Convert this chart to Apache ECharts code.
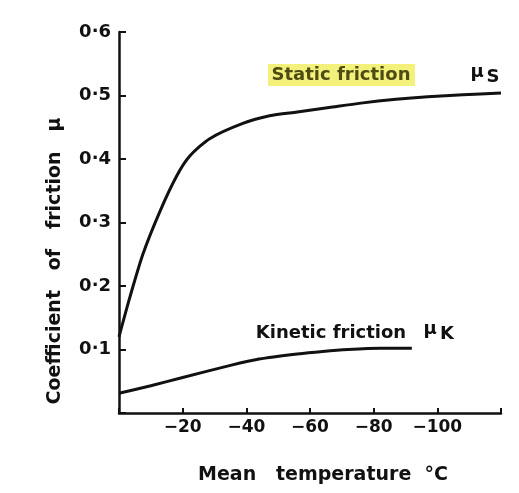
<!DOCTYPE html>
<html>
<head>
<meta charset="utf-8">
<script src="https://cdn.jsdelivr.net/npm/echarts@6/dist/echarts.min.js"></script>
<style>
  html, body { margin: 0; padding: 0; background: #fff; }
  #chart { width: 519px; height: 493px; }
</style>
</head>
<body>
<div id="chart"></div>
<script>
// mean temperature (°C) and friction coefficient
const staticTemps = [0, -3.4, -7.5, -12.9, -18.2, -22.3, -28.5, -38.9, -47.3, -56, -66, -76, -87, -97, -108, -120]
const staticMu = [0.12, 0.182, 0.25, 0.318, 0.374, 0.405, 0.432, 0.456, 0.468, 0.474, 0.481, 0.488, 0.494, 0.498, 0.501, 0.504]

const kineticTemps = [0, -10, -20, -35, -44, -56, -64, -72, -82, -92]
const kineticMu = [0.031, 0.043, 0.056, 0.075, 0.085, 0.093, 0.097, 0.1, 0.102, 0.102]

const xTicks = [-20, -40, -60, -80, -100]
const yTicks = [0.1, 0.2, 0.3, 0.4, 0.5, 0.6]

const font = '"DejaVu Sans", sans-serif'
const ink = '#111'

const chart = echarts.init(document.getElementById('chart'))

const pair = (xs, ys) => xs.map((x, i) => [x, ys[i]])

chart.setOption({
  animation: false,
  grid: {
    left: 119,
    right: 18,
    top: 32,
    bottom: 80,
    outerBoundsMode: 'none',
  },
  xAxis: {
    type: 'value',
    inverse: true,
    min: -120,
    max: 0,
    interval: 20,
    splitLine: { show: false },
    axisLine: { lineStyle: { color: ink, width: 2.5 } },
    axisTick: { inside: true, length: 5, lineStyle: { color: ink, width: 2 } },
    axisLabel: {
      margin: 6,
      color: ink,
      fontFamily: font,
      fontWeight: 'bold',
      fontSize: 17,
      formatter: (v) => xTicks.includes(v) ? '\u2212' + Math.abs(v) : '',
    },
  },
  yAxis: {
    type: 'value',
    min: 0,
    max: 0.6,
    interval: 0.1,
    splitLine: { show: false },
    axisLine: { show: true, lineStyle: { color: ink, width: 2.5 } },
    axisTick: { show: true, inside: true, length: 7, lineStyle: { color: ink, width: 2 } },
    axisLabel: {
      margin: 8,
      color: ink,
      fontFamily: font,
      fontWeight: 'bold',
      fontSize: 18,
      formatter: (v) => {
        const hit = yTicks.find((t) => Math.abs(t - v) < 1e-6)
        return hit ? hit.toFixed(1).replace('.', '\u00b7') : ''
      },
    },
  },
  graphic: [
    {
      type: 'text',
      x: 55,
      y: 261,
      rotation: Math.PI / 2,
      style: {
        text: 'Coefficient   of   friction   \u03bc',
        fill: ink,
        font: 'bold 19px ' + font,
        align: 'center',
        verticalAlign: 'middle',
      },
    },
    {
      type: 'text',
      x: 323,
      y: 475,
      style: {
        text: 'Mean   temperature  \u00b0C',
        fill: ink,
        font: 'bold 19px ' + font,
        align: 'center',
        verticalAlign: 'middle',
      },
    },
    {
      type: 'rect',
      shape: { x: 268, y: 64, width: 147, height: 22 },
      style: { fill: '#f3f17c' },
    },
    {
      type: 'text',
      x: 341,
      y: 75,
      style: {
        text: 'Static friction',
        fill: '#4d4c12',
        font: 'bold 18px ' + font,
        align: 'center',
        verticalAlign: 'middle',
      },
    },
    {
      type: 'text',
      x: 477,
      y: 72,
      style: { text: '\u03bc', fill: ink, font: 'bold 18px ' + font, align: 'center', verticalAlign: 'middle' },
    },
    {
      type: 'text',
      x: 493,
      y: 77,
      style: { text: 'S', fill: ink, font: 'bold 18px ' + font, align: 'center', verticalAlign: 'middle' },
    },
    {
      type: 'text',
      x: 331,
      y: 333,
      style: {
        text: 'Kinetic friction',
        fill: ink,
        font: 'bold 18px ' + font,
        align: 'center',
        verticalAlign: 'middle',
      },
    },
    {
      type: 'text',
      x: 430,
      y: 329,
      style: { text: '\u03bc', fill: ink, font: 'bold 18px ' + font, align: 'center', verticalAlign: 'middle' },
    },
    {
      type: 'text',
      x: 447,
      y: 334,
      style: { text: 'K', fill: ink, font: 'bold 18px ' + font, align: 'center', verticalAlign: 'middle' },
    },
  ],
  series: [
    {
      name: 'Static friction',
      type: 'line',
      data: pair(staticTemps, staticMu),
      smooth: 0.25,
      showSymbol: false,
      lineStyle: { color: ink, width: 3 },
    },
    {
      name: 'Kinetic friction',
      type: 'line',
      data: pair(kineticTemps, kineticMu),
      smooth: 0.25,
      showSymbol: false,
      lineStyle: { color: ink, width: 3 },
    },
  ],
})
</script>
</body>
</html>
